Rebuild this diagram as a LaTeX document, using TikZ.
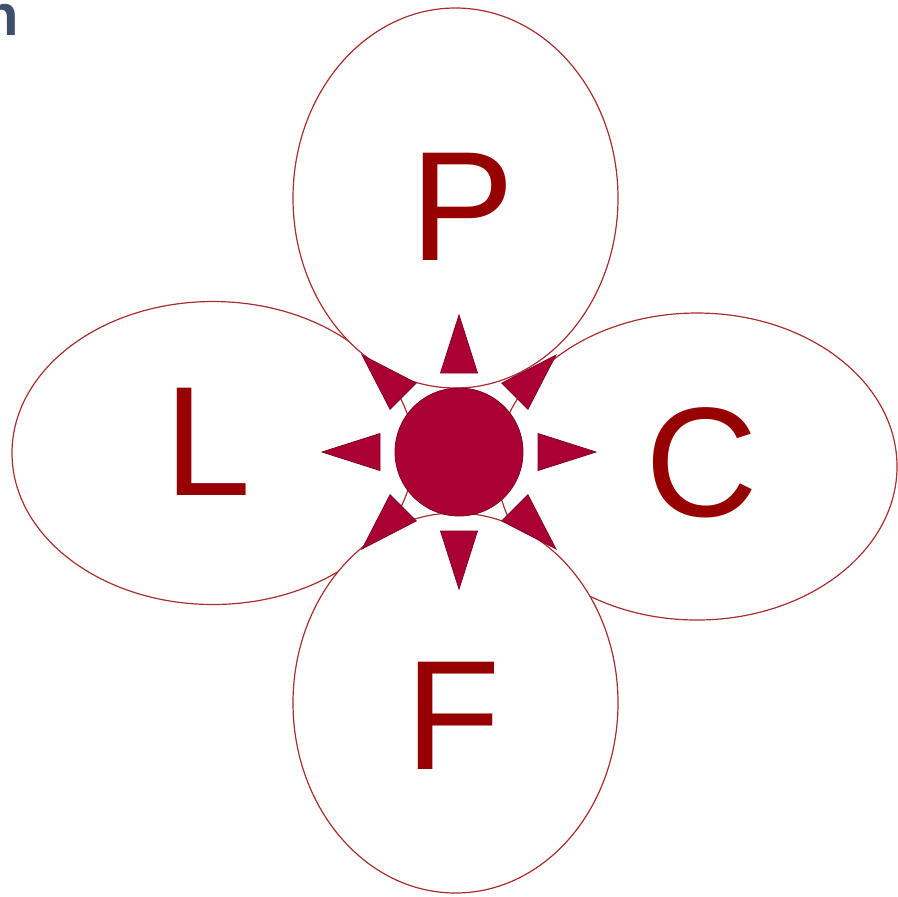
\documentclass[tikz,border=0pt]{standalone}
\usepackage{fontspec}
\setmainfont{Liberation Sans}
\usetikzlibrary{shapes.geometric, positioning}

\definecolor{petalline}{RGB}{170,46,46}
\definecolor{sunred}{RGB}{170,0,52}
\definecolor{letterred}{RGB}{150,0,0}
\definecolor{titleblue}{RGB}{62,78,108}

\begin{document}
\begin{tikzpicture}[
        x = 0.5pt, y = -0.5pt,
        petal/.style = {ellipse, draw = petalline, line width = 0.6pt, fill = white, inner sep = 0pt},
        letter/.style = {text = letterred, inner sep = 0pt, font = \fontsize{78}{90}\selectfont},
        sun/.style = {fill = sunred, draw = sunred!75!black, line width = 0.4pt}
    ]
    \useasboundingbox (0,0) rectangle (898,896);

    \node[anchor = base east, inner sep = 0pt, text = titleblue,
          font = \fontsize{29}{34}\bfseries\selectfont] (title) at (19,35) {n};

    % petals, later ones cover the earlier
    \node[petal, minimum width = 201pt, minimum height = 151.5pt] (petalL) at (213,453) {};
    \node[petal, minimum width = 162.5pt, minimum height = 190pt] (petalP) at (455.5,198) {};
    \node[petal, minimum width = 200pt, minimum height = 153.5pt] (petalC) at (697,466.5) {};
    \node[petal, minimum width = 162.5pt, minimum height = 190pt] (petalF) at (455.5,703) {};

    \node[letter] (P) at (463,207) {P};
    \node[letter] (L) at (208,442) {L};
    \node[letter] (C) at (702,463) {C};
    \node[letter] (F) at (453,716) {F};

    % the sun
    \node[circle, sun, minimum size = 64pt, inner sep = 0pt] (hub) at (459,452) {};
    \foreach \a in {0,45,...,315}
        \filldraw[sun, shift = {(hub.center)}, rotate = \a]
            (79,-18.5) -- (137,0) -- (79,18.5) -- cycle;

\end{tikzpicture}
\end{document}
